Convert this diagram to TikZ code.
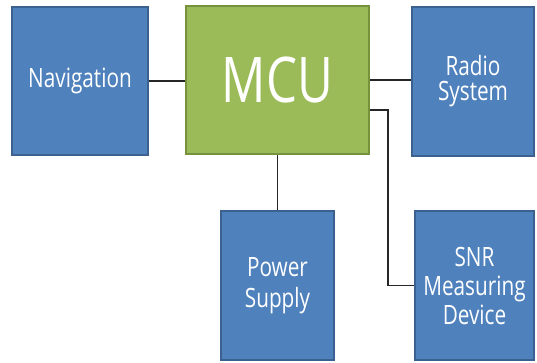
\documentclass[tikz,border=0pt]{standalone}
\usepackage{fontspec}
\setmainfont{Open Sans}[FakeStretch=0.78]
\definecolor{bfill}{HTML}{4F81BD}
\definecolor{bdraw}{HTML}{3A6190}
\definecolor{gfill}{HTML}{9BBB59}
\definecolor{gdraw}{HTML}{76923C}
\begin{document}
\begin{tikzpicture}[x=1pt,y=-1pt,
  bluebox/.style={rectangle, fill=bfill, draw=bdraw, line width=2pt, text=white, align=center, inner sep=0pt,
    font=\fontsize{26.6}{30}\selectfont},
  link/.style={draw=black!85, line width=1.4pt}]
\useasboundingbox (0,0) rectangle (537,362);
\node[bluebox, minimum width=136pt, minimum height=148pt] (nav) at (80,81) {Navigation};
\node[rectangle, fill=gfill, draw=gdraw, line width=2pt, text=white, inner sep=0pt,
  minimum width=183pt, minimum height=148pt, font=\fontsize{63}{66}\selectfont] (mcu) at (277.5,80) {MCU};
\node[bluebox, minimum width=122pt, minimum height=149pt, font=\fontsize{26.6}{25}\selectfont] (radio) at (473,81) {Radio\\System};
\node[bluebox, minimum width=113pt, minimum height=149pt, font=\fontsize{26.6}{31}\selectfont] (pwr) at (277.5,285.5) {Power\\Supply};
\node[bluebox, minimum width=119pt, minimum height=149pt, font=\fontsize{26.6}{29}\selectfont] (snr) at (474.5,285.5) {SNR\\Measuring\\Device};
\draw[link] (nav.east) -- (mcu.west |- nav.east);
\draw[link] (mcu.east) -- (radio.west |- mcu.east);
\draw[link] ([yshift=-30pt]mcu.east) -- ++(18,0) |- (snr.west);
\draw[link] (mcu.south -| pwr.north) -- (pwr.north);
\end{tikzpicture}
\end{document}
